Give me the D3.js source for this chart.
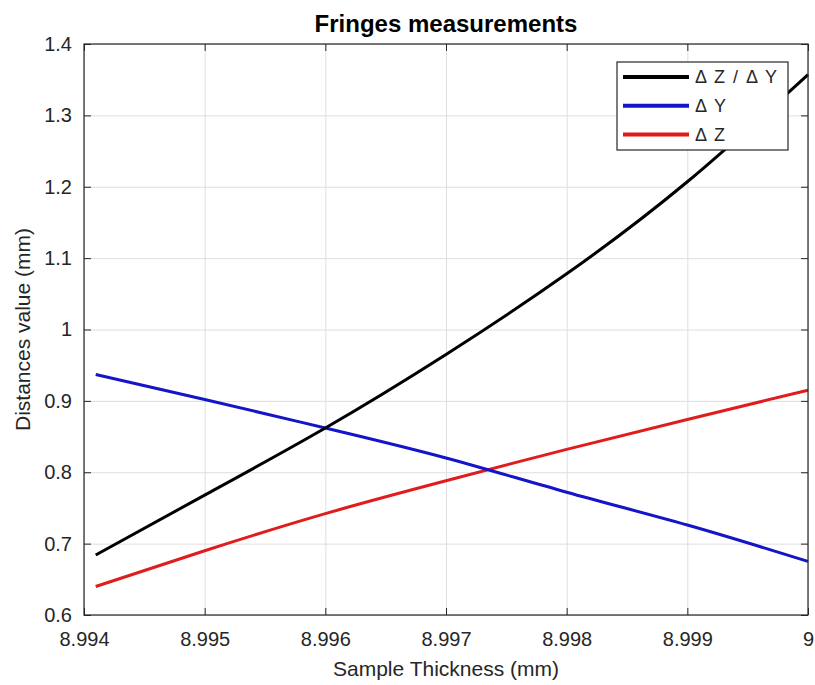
<!DOCTYPE html>
<html>
<head>
<meta charset="utf-8">
<script src="https://cdn.jsdelivr.net/npm/d3@7"></script>
<style>
  body { margin: 0; background: #fff; }
  svg { font-family: "Liberation Sans", Arial, sans-serif; }
</style>
</head>
<body>
<svg id="chart"></svg>
<script>
// sample thickness (mm)
var thickness = [8.994097, 8.995, 8.996, 8.997, 8.998, 8.999, 9.000];
// values (mm)
var ratioZY = [0.684, 0.768, 0.862, 0.965, 1.078, 1.207, 1.357];
var deltaY  = [0.937, 0.902, 0.862, 0.820, 0.772, 0.726, 0.675];
var deltaZ  = [0.640, 0.690, 0.742, 0.788, 0.832, 0.874, 0.915];

var seriesNames = ["\u0394 Z / \u0394 Y", "\u0394 Y", "\u0394 Z"];
var xTicks = [8.994, 8.995, 8.996, 8.997, 8.998, 8.999, 9];
var xTickLabels = ["8.994", "8.995", "8.996", "8.997", "8.998", "8.999", "9"];
var yTicks = [0.6, 0.7, 0.8, 0.9, 1.0, 1.1, 1.2, 1.3, 1.4];
var yTickLabels = ["0.6", "0.7", "0.8", "0.9", "1", "1.1", "1.2", "1.3", "1.4"];

var svgWidth = 815, svgHeight = 685;
var margin = { top: 44, right: 7, bottom: 70, left: 84 };
var width = svgWidth - margin.left - margin.right;
var height = svgHeight - margin.top - margin.bottom;
var axisColor = "#262626";
var colors = ["#000000", "#1414c8", "#e01c1c"];

var svg = d3.select("#chart")
    .attr("width", svgWidth)
    .attr("height", svgHeight);

var g = svg.append("g")
    .attr("transform", "translate(" + margin.left + "," + margin.top + ")");

var x = d3.scaleLinear().domain([8.994, 9]).range([0, width]);
var y = d3.scaleLinear().domain([0.6, 1.4]).range([height, 0]);

// grid
g.append("g")
    .attr("transform", "translate(0," + height + ")")
    .call(d3.axisBottom(x).tickValues(xTicks).tickSize(-height).tickFormat(""))
    .call(function(s) {
      s.select(".domain").remove();
      s.selectAll("line").attr("stroke", "#dedede");
    });
g.append("g")
    .call(d3.axisLeft(y).tickValues(yTicks).tickSize(-width).tickFormat(""))
    .call(function(s) {
      s.select(".domain").remove();
      s.selectAll("line").attr("stroke", "#dedede");
    });

// curves
var data = [ratioZY, deltaY, deltaZ].map(function(vals) {
  return vals.map(function(v, i) { return { t: thickness[i], v: v }; });
});

var line = d3.line()
    .x(function(d) { return x(d.t); })
    .y(function(d) { return y(d.v); })
    .curve(d3.curveNatural);

// draw red, blue then black
[2, 1, 0].forEach(function(k) {
  g.append("path")
      .datum(data[k])
      .attr("fill", "none")
      .attr("stroke", colors[k])
      .attr("stroke-width", 3)
      .attr("stroke-linejoin", "round")
      .attr("d", line);
});

// axes with inward ticks
function styleAxis(s) {
  s.select(".domain").remove();
  s.selectAll("line").attr("stroke", axisColor);
  s.selectAll("text").attr("fill", axisColor).style("font-size", "20px");
}
g.append("g")
    .attr("transform", "translate(0," + height + ")")
    .call(d3.axisBottom(x).tickValues(xTicks).tickSize(-7).tickPadding(17)
      .tickFormat(function(d, i) { return xTickLabels[i]; }))
    .call(styleAxis);
g.append("g")
    .call(d3.axisTop(x).tickValues(xTicks).tickSize(-7).tickFormat(""))
    .call(styleAxis);
g.append("g")
    .call(d3.axisLeft(y).tickValues(yTicks).tickSize(-7).tickPadding(12)
      .tickFormat(function(d, i) { return yTickLabels[i]; }))
    .call(styleAxis);
g.append("g")
    .attr("transform", "translate(" + width + ",0)")
    .call(d3.axisRight(y).tickValues(yTicks).tickSize(-7).tickFormat(""))
    .call(styleAxis);

g.append("rect")
    .attr("width", width)
    .attr("height", height)
    .attr("fill", "none")
    .attr("stroke", axisColor)
    .attr("stroke-width", 1.2);

// title and labels
svg.append("text")
    .attr("x", margin.left + width / 2)
    .attr("y", 32)
    .attr("text-anchor", "middle")
    .style("font-size", "24px")
    .style("font-weight", "bold")
    .attr("fill", "#000")
    .text("Fringes measurements");

svg.append("text")
    .attr("x", margin.left + width / 2)
    .attr("y", 676)
    .attr("text-anchor", "middle")
    .style("font-size", "21px")
    .attr("fill", axisColor)
    .text("Sample Thickness (mm)");

svg.append("text")
    .attr("transform", "translate(30," + (margin.top + height / 2) + ") rotate(-90)")
    .attr("text-anchor", "middle")
    .style("font-size", "21px")
    .attr("fill", axisColor)
    .text("Distances value (mm)");

// legend
var legend = svg.append("g").attr("transform", "translate(617,62)");
legend.append("rect")
    .attr("width", 171)
    .attr("height", 88)
    .attr("fill", "#fff")
    .attr("stroke", axisColor)
    .attr("stroke-width", 1.2);

seriesNames.forEach(function(name, i) {
  var row = legend.append("g").attr("transform", "translate(0," + (15 + i * 28.7) + ")");
  row.append("line")
      .attr("x1", 6).attr("x2", 72)
      .attr("stroke", colors[i])
      .attr("stroke-width", 4);
  row.append("text")
      .attr("x", 78)
      .attr("dy", "0.36em")
      .style("font-size", "18px")
      .style("letter-spacing", "1.5px")
      .attr("fill", axisColor)
      .text(name);
});
</script>
</body>
</html>
